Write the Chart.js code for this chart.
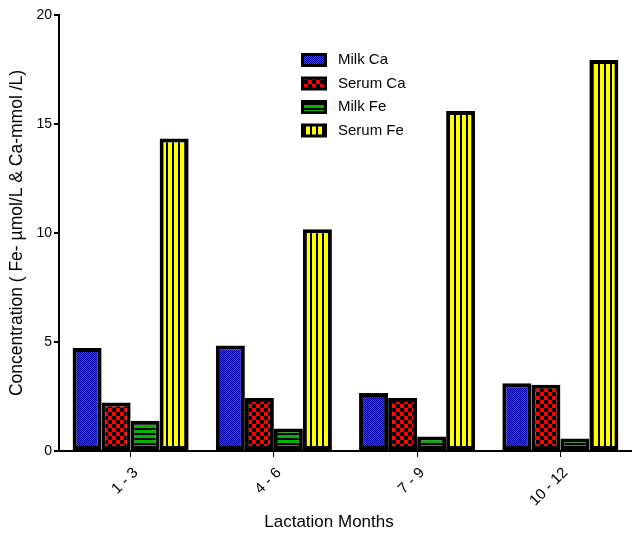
<!DOCTYPE html>
<html>
<head>
<meta charset="utf-8">
<script src="https://cdn.jsdelivr.net/npm/chart.js@4.4.1/dist/chart.umd.min.js"></script>
<style>
  html, body { margin: 0; padding: 0; background: #fff; }
  #wrap { width: 632px; height: 533px; }
</style>
</head>
<body>
<div id="wrap"><canvas id="chart" width="632" height="533"></canvas></div>
<script>
// data
const months = ['1 - 3', '4 - 6', '7 - 9', '10 - 12'];
const milkCa = [4.72, 4.84, 2.66, 3.11];
const serumCa = [2.22, 2.43, 2.43, 3.04];
const milkFe = [1.39, 1.03, 0.67, 0.57];
const serumFe = [14.34, 10.17, 15.6, 17.94];
const yTicks = [0, 5, 10, 15, 20];
const xTitle = 'Lactation Months';

// fill patterns, roughly like the original hatching
function makePattern(w, h, bg, fg, drawFn) {
    const c = document.createElement('canvas');
    c.width = w; c.height = h;
    const g = c.getContext('2d');
    g.fillStyle = bg;
    g.fillRect(0, 0, w, h);
    g.fillStyle = fg;
    drawFn(g);
    return g.createPattern(c, 'repeat');
}
const ctx = document.getElementById('chart').getContext('2d');
const blueFill = makePattern(2, 2, '#3a3aff', '#0000a8', g => { g.fillRect(0, 0, 1, 1); g.fillRect(1, 1, 1, 1); });
const redFill = makePattern(8, 8, '#ff0000', '#000000', g => { g.fillRect(0, 0, 4, 4); g.fillRect(4, 4, 4, 4); });
const greenFill = makePattern(4, 5, '#00b400', '#000000', g => { g.fillRect(0, 3, 4, 2); });
const yellowFill = makePattern(6, 4, '#ffff00', '#000000', g => { g.fillRect(4, 0, 2, 4); });

const font = '"Liberation Sans", Arial, sans-serif';

// legend and x title drawn by hand
const boxLegend = {
    id: 'boxLegend',
    afterDraw(chart) {
        const c = chart.ctx;
        c.save();
        chart.data.datasets.forEach((ds, i) => {
            const y = 53 + i * 23.5;
            c.fillStyle = '#000';
            c.fillRect(301, y, 26, 14);
            c.fillStyle = ds.backgroundColor;
            c.fillRect(304, y + 3, 20, 8);
            c.fillStyle = '#000';
            c.font = '15px ' + font;
            c.textBaseline = 'middle';
            c.fillText(ds.label, 338, y + 7);
        });
        c.font = '17px ' + font;
        c.textAlign = 'center';
        c.textBaseline = 'middle';
        c.fillText(xTitle, 329, 522);
        c.restore();
    }
};

new Chart(ctx, {
    type: 'bar',
    data: {
        labels: months,
        datasets: [
            { label: 'Milk Ca', data: milkCa, backgroundColor: blueFill },
            { label: 'Serum Ca', data: serumCa, backgroundColor: redFill },
            { label: 'Milk Fe', data: milkFe, backgroundColor: greenFill },
            { label: 'Serum Fe', data: serumFe, backgroundColor: yellowFill }
        ]
    },
    options: {
        responsive: false,
        animation: false,
        layout: { padding: { top: 15, right: 0, left: 0, bottom: 0 } },
        datasets: {
            bar: {
                borderColor: '#000',
                borderWidth: 4,
                borderSkipped: false,
                categoryPercentage: 0.81,
                barPercentage: 1
            }
        },
        plugins: {
            legend: { display: false },
            tooltip: { enabled: false }
        },
        scales: {
            x: {
                offset: true,
                grid: { offset: false, drawOnChartArea: false, drawTicks: true, tickLength: 6, color: '#000', lineWidth: 1 },
                border: { color: '#000', width: 2 },
                ticks: { color: '#000', font: { family: font, size: 15 }, minRotation: 45, maxRotation: 45, padding: 7, labelOffset: 5 },
                afterFit(scale) { scale.height = 82; }
            },
            y: {
                min: 0,
                max: 20,
                afterBuildTicks(scale) { scale.ticks = yTicks.map(v => ({ value: v })); },
                grid: { drawOnChartArea: false, drawTicks: true, tickLength: 5, color: '#000', lineWidth: 2 },
                border: { color: '#000', width: 2 },
                ticks: { color: '#000', font: { family: font, size: 14 }, padding: 2 },
                title: { display: true, text: 'Concentration ( Fe- µmol/L & Ca-mmol /L)', color: '#000', font: { family: font, size: 17.5 }, padding: { top: 7, bottom: 2 } },
                afterFit(scale) { scale.width = 59; }
            }
        }
    },
    plugins: [boxLegend]
});
</script>
</body>
</html>
